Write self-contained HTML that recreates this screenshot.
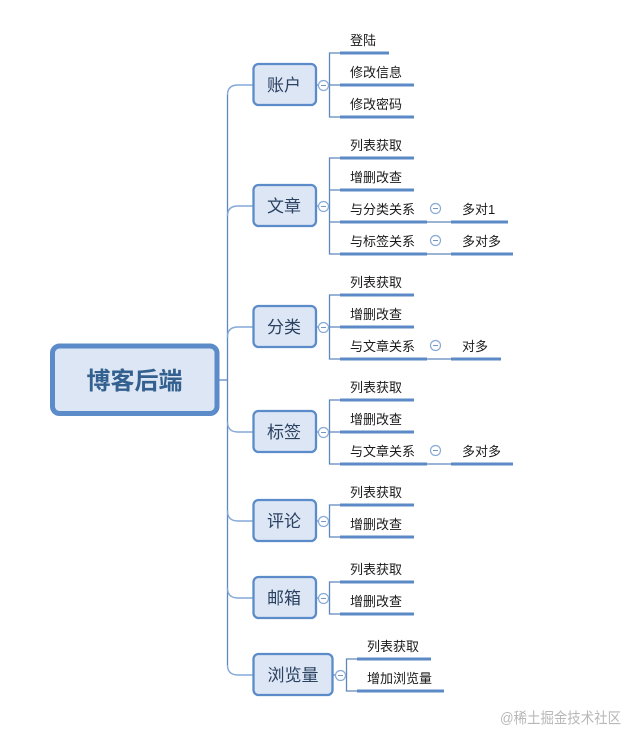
<!DOCTYPE html>
<html><head><meta charset="utf-8"><style>
html,body{margin:0;padding:0;background:#fff;width:640px;height:745px;overflow:hidden}
svg{display:block}
text{font-family:"Liberation Sans","Noto Sans CJK SC",sans-serif}
.t{font-size:17px;fill:#2a4161;text-anchor:middle}
.s{font-size:13px;fill:#1a1a1a}
.b{fill:#dce6f4;stroke:#5b8cc9;stroke-width:2.300}
.u{stroke:#5b8ac6;stroke-width:3;fill:none}
.l{stroke:#5f88bd;stroke-width:1.300;fill:none}
.c{stroke:#84a9da;stroke-width:1.400;fill:none}
.o{fill:#fff;stroke:#8aabd6;stroke-width:1.200}
.m{stroke:#7595c2;stroke-width:1}
</style></head><body>
<svg width="640" height="745" viewBox="0 0 640 745" xmlns="http://www.w3.org/2000/svg">
<!-- spine -->
<path class="l" d="M227.500 95V665"/>
<path class="l" d="M218 380H227.500"/>
<path class="c" d="M253 85H238Q227.500 85 227.500 95"/>
<path class="c" d="M253 206H238Q227.500 206 227.500 216"/>
<path class="c" d="M253 327H238Q227.500 327 227.500 337"/>
<path class="c" d="M253 432H238Q227.500 432 227.500 422"/>
<path class="c" d="M253 521H238Q227.500 521 227.500 511"/>
<path class="c" d="M253 598H238Q227.500 598 227.500 588"/>
<path class="c" d="M253 675H238Q227.500 675 227.500 665"/>
<!-- root -->
<rect x="52.500" y="346" width="164.500" height="67.500" rx="7" fill="#dce6f4" stroke="#5b8cc9" stroke-width="5"/>
<text x="134.500" y="389" font-size="24" font-weight="bold" fill="#34608f" text-anchor="middle">博客后端</text>
<!-- topics -->
<rect class="b" x="253.500" y="64" width="62.500" height="41" rx="5"/><text class="t" x="284" y="91">账户</text>
<rect class="b" x="253.500" y="185" width="62.500" height="41" rx="5"/><text class="t" x="284" y="212">文章</text>
<rect class="b" x="253.500" y="306" width="62.500" height="41" rx="5"/><text class="t" x="284" y="333">分类</text>
<rect class="b" x="253.500" y="411" width="62.500" height="41" rx="5"/><text class="t" x="284" y="438">标签</text>
<rect class="b" x="253.500" y="500" width="62.500" height="41" rx="5"/><text class="t" x="284" y="527">评论</text>
<rect class="b" x="253.500" y="577" width="62.500" height="41" rx="5"/><text class="t" x="284" y="604">邮箱</text>
<rect class="b" x="253.500" y="654" width="79" height="41" rx="5"/><text class="t" x="293" y="681">浏览量</text>
<!-- brackets -->
<path class="l" d="M340 53H329.500V117H340M329.500 85H340M316 85H329.500"/>
<path class="l" d="M340 158H329.500V254H340M329.500 190H340M329.500 222H340M316 206H329.500"/>
<path class="l" d="M340 295H329.500V359H340M329.500 327H340M316 327H329.500"/>
<path class="l" d="M340 400H329.500V464H340M329.500 432H340M316 432H329.500"/>
<path class="l" d="M340 505H329.500V537H340M316 521H329.500"/>
<path class="l" d="M340 582H329.500V614H340M316 598H329.500"/>
<path class="l" d="M357 659H346.500V691H357M333 675H346.500"/>
<path class="l" d="M427 222H451M427 254H451M427 359H451M427 464H451"/>
<!-- collapse circles -->
<g><circle class="o" cx="323.500" cy="85.500" r="5"/><path class="m" d="M321 85.500H326"/></g>
<g><circle class="o" cx="323.500" cy="206.500" r="5"/><path class="m" d="M321 206.500H326"/></g>
<g><circle class="o" cx="323.500" cy="327.500" r="5"/><path class="m" d="M321 327.500H326"/></g>
<g><circle class="o" cx="323.500" cy="432.500" r="5"/><path class="m" d="M321 432.500H326"/></g>
<g><circle class="o" cx="323.500" cy="521.500" r="5"/><path class="m" d="M321 521.500H326"/></g>
<g><circle class="o" cx="323.500" cy="598.500" r="5"/><path class="m" d="M321 598.500H326"/></g>
<g><circle class="o" cx="340.500" cy="675.500" r="5"/><path class="m" d="M338 675.500H343"/></g>
<g><circle class="o" cx="435.500" cy="208.500" r="5"/><path class="m" d="M433 208.500H438"/></g>
<g><circle class="o" cx="435.500" cy="240.500" r="5"/><path class="m" d="M433 240.500H438"/></g>
<g><circle class="o" cx="435.500" cy="345.500" r="5"/><path class="m" d="M433 345.500H438"/></g>
<g><circle class="o" cx="435.500" cy="450.500" r="5"/><path class="m" d="M433 450.500H438"/></g>
<!-- underlines -->
<path class="u" d="M340 53H389M340 85H414M340 117H414"/>
<path class="u" d="M340 158H414M340 190H414M340 222H427M340 254H427M451 222H508M451 254H513"/>
<path class="u" d="M340 295H414M340 327H414M340 359H427M451 359H501"/>
<path class="u" d="M340 400H414M340 432H414M340 464H427M451 464H513"/>
<path class="u" d="M340 505H414M340 537H414"/>
<path class="u" d="M340 582H414M340 614H414"/>
<path class="u" d="M357 659H431M357 691H444"/>
<!-- labels -->
<text class="s" x="350" y="45">登陆</text>
<text class="s" x="350" y="77">修改信息</text>
<text class="s" x="350" y="109">修改密码</text>
<text class="s" x="350" y="150">列表获取</text>
<text class="s" x="350" y="182">增删改查</text>
<text class="s" x="350" y="214">与分类关系</text>
<text class="s" x="350" y="246">与标签关系</text>
<text class="s" x="462" y="214">多对1</text>
<text class="s" x="462" y="246">多对多</text>
<text class="s" x="350" y="287">列表获取</text>
<text class="s" x="350" y="319">增删改查</text>
<text class="s" x="350" y="351">与文章关系</text>
<text class="s" x="462" y="351">对多</text>
<text class="s" x="350" y="392">列表获取</text>
<text class="s" x="350" y="424">增删改查</text>
<text class="s" x="350" y="456">与文章关系</text>
<text class="s" x="462" y="456">多对多</text>
<text class="s" x="350" y="497">列表获取</text>
<text class="s" x="350" y="529">增删改查</text>
<text class="s" x="350" y="574">列表获取</text>
<text class="s" x="350" y="606">增删改查</text>
<text class="s" x="367" y="651">列表获取</text>
<text class="s" x="367" y="683">增加浏览量</text>
<text x="500" y="723" font-size="15" fill="#b8b8b8" textLength="121" lengthAdjust="spacingAndGlyphs">@稀土掘金技术社区</text>
</svg>
</body></html>
